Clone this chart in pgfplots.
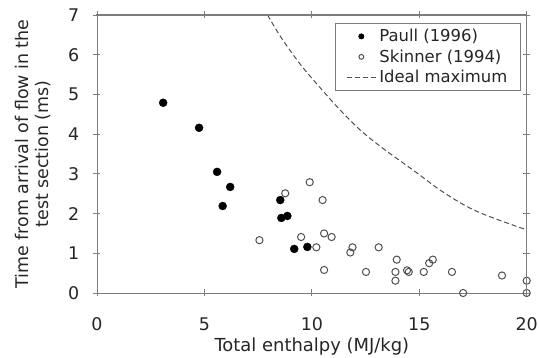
\documentclass[border=0pt]{standalone}
\usepackage{fontspec}
\setmainfont{DejaVu Sans}
\usepackage{pgfplots}
\pgfplotsset{compat=1.18}
\definecolor{axgray}{RGB}{125,125,125}
\definecolor{ptgray}{RGB}{80,80,80}
\pgfplotsset{
  markleg/.style={legend image code/.code={\path (0bp,0bp) (30bp,0bp); \draw[mark repeat=1,mark phase=1,##1, mark size=#1] plot coordinates {(14bp,0bp)};}},
  lineleg/.style={legend image code/.code={\draw[##1] (0bp,0bp) -- (30bp,0bp);}},
}
\begin{document}
\begin{tikzpicture}
\begin{axis}[
  scale only axis,
  width=429.7bp, height=278bp,
  xmin=0, xmax=20, ymin=0, ymax=7,
  xtick={0,5,10,15,20}, ytick={0,1,...,7},
  clip=false,
  axis line style={draw=axgray, line width=0.9bp},
  every tick/.style={draw=axgray, line width=0.8bp},
  tick align=center,
  major tick length=7bp,
  /pgf/number format/assume math mode=true,
  ticklabel style={font=\fontsize{17.5}{17.5}\selectfont, text=black!85},
  xticklabel style={inner sep=0pt, anchor=north, yshift=-21bp},
  yticklabel style={inner sep=0pt, anchor=east, xshift=-14bp},
  xlabel={Total enthalpy (MJ/kg)},
  xlabel style={font=\fontsize{18}{18}\selectfont, inner sep=0pt, at={(axis description cs:0.5,-0.212)}, anchor=base, text=black!85},
  ylabel={Time from arrival of flow in the\\test section (ms)},
  ylabel style={font=\fontsize{17.5}{20.5}\selectfont, align=center, inner sep=0pt, at={(axis description cs:-0.191,0.5)}, anchor=north, text=black!85},
  legend style={draw=axgray, line width=0.7bp, at={(0.985,0.971)}, anchor=north east,
    font=\fontsize{16.5}{16.5}\selectfont, inner xsep=11bp, inner ysep=4bp, row sep=2.5bp,
    nodes={inner xsep=1.5bp, text=black!85}},
  legend cell align=left,
]
\addplot[only marks, mark=*, mark size=4bp, draw=black, fill=black, markleg=2.6bp]
  coordinates {(3.08,4.79) (4.75,4.16) (5.59,3.05) (6.2,2.67) (5.85,2.19)
  (8.53,2.34) (8.58,1.89) (8.86,1.94) (9.18,1.11) (9.79,1.16)};
\addlegendentry{Paull (1996)}
\addplot[only marks, mark=o, mark size=3.6bp, draw=ptgray, line width=1bp,
  mark options={fill=white}, markleg=2.4bp]
  coordinates {(7.56,1.33) (8.76,2.51) (9.9,2.79) (10.5,2.34) (9.5,1.41)
  (10.57,1.50) (10.92,1.41) (10.21,1.15) (10.57,0.58) (11.89,1.15)
  (11.79,1.02) (12.52,0.53) (13.11,1.15) (13.95,0.84) (13.89,0.53)
  (13.89,0.31) (14.43,0.57) (14.51,0.53) (15.21,0.53) (15.46,0.75)
  (15.63,0.84) (16.52,0.53) (17.04,0.0) (18.85,0.44) (20.0,0.31) (20.0,0.0)};
\addlegendentry{Skinner (1994)}
\addplot[draw=ptgray, line width=1bp, dash pattern=on 5bp off 3bp, smooth, tension=0.6, lineleg]
  coordinates {(7.94,7.0) (8.55,6.45) (9.46,5.76) (10.40,5.16) (11.33,4.60)
  (12.26,4.10) (13.19,3.69) (14.13,3.32) (14.9,3.02) (16.14,2.53)
  (17.70,2.05) (20,1.59)};
\addlegendentry{Ideal maximum}
\coordinate (sw) at (rel axis cs:0,0);
\coordinate (ne) at (rel axis cs:1,1);
\end{axis}
\draw[draw=axgray, line width=1.1bp, line cap=rect] (sw |- ne) -- (ne) -- (ne |- sw);
\pgfresetboundingbox
\path (sw) ++(-97bp,-65bp) coordinate (bbA);
\path (ne) ++(12.3bp,15bp) coordinate (bbB);
\path (bbA) rectangle (bbB);
\end{tikzpicture}
\end{document}
